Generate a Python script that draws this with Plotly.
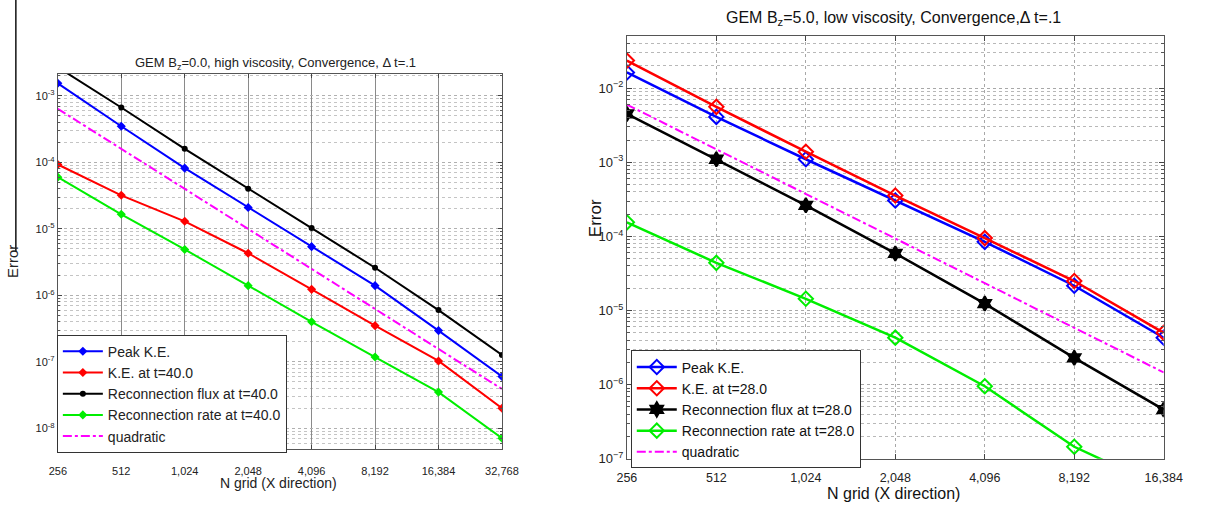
import math
import plotly.graph_objects as go

# ---------------- data ----------------
n_left = [256, 512, 1024, 2048, 4096, 8192, 16384, 32768]
n_left_labels = ["256", "512", "1,024", "2,048", "4,096", "8,192", "16,384", "32,768"]
left_peak_ke = [1.55e-3, 3.5e-4, 8.2e-5, 2.1e-5, 5.4e-6, 1.4e-6, 2.95e-7, 6.0e-8]
left_ke_t40 = [9.3e-5, 3.2e-5, 1.3e-5, 4.3e-6, 1.23e-6, 3.5e-7, 1.03e-7, 2.0e-8]
left_flux_t40 = [2.7e-3, 6.7e-4, 1.6e-4, 4.0e-5, 1.03e-5, 2.6e-6, 6.0e-7, 1.27e-7]
left_rate_t40 = [6.0e-5, 1.66e-5, 4.9e-6, 1.4e-6, 4.0e-7, 1.18e-7, 3.5e-8, 7.1e-9]
left_quadratic = [6.4e-4, 1.6e-4, 4.0e-5, 1.0e-5, 2.5e-6, 6.25e-7, 1.56e-7, 3.9e-8]
left_ytick_vals = [1e-8, 1e-7, 1e-6, 1e-5, 1e-4, 1e-3]
left_ytick_text = ["10<sup>-8</sup>", "10<sup>-7</sup>", "10<sup>-6</sup>",
                   "10<sup>-5</sup>", "10<sup>-4</sup>", "10<sup>-3</sup>"]

n_right = [256, 512, 1024, 2048, 4096, 8192, 16384]
n_right_labels = ["256", "512", "1,024", "2,048", "4,096", "8,192", "16,384"]
right_peak_ke = [1.63e-2, 4.1e-3, 1.1e-3, 3.05e-4, 8.45e-5, 2.16e-5, 4.3e-6]
right_ke_t28 = [2.36e-2, 5.6e-3, 1.39e-3, 3.56e-4, 9.5e-5, 2.5e-5, 5.0e-6]
right_flux_t28 = [4.5e-3, 1.1e-3, 2.63e-4, 5.9e-5, 1.24e-5, 2.3e-6, 4.6e-7]
right_rate_t28 = [1.55e-4, 4.4e-5, 1.44e-5, 4.3e-6, 9.5e-7, 1.45e-7, 4.0e-8]
right_quadratic = [6.0e-3, 1.5e-3, 3.75e-4, 9.4e-5, 2.34e-5, 5.9e-6, 1.46e-6]
right_ytick_vals = [1e-7, 1e-6, 1e-5, 1e-4, 1e-3, 1e-2]
right_ytick_text = ["10<sup>−7</sup>", "10<sup>−6</sup>", "10<sup>−5</sup>",
                    "10<sup>−4</sup>", "10<sup>−3</sup>", "10<sup>−2</sup>"]

W, H = 1212, 512
FONT = "Liberation Sans, Arial, sans-serif"

BLUE, RED, BLACK, GREEN, MAG = "#0000ff", "#ff0000", "#000000", "#00ee00", "#ff00ff"

fig = go.Figure()

# ---------------- left panel ----------------
left_series = [
    ("Peak K.E.", left_peak_ke, BLUE, "diamond"),
    ("K.E. at t=40.0", left_ke_t40, RED, "diamond"),
    ("Reconnection flux at t=40.0", left_flux_t40, BLACK, "circle"),
    ("Reconnection rate at t=40.0", left_rate_t40, GREEN, "diamond"),
]
for name, vals, col, sym in left_series:
    fig.add_trace(go.Scatter(
        x=n_left, y=vals, name=name, mode="lines+markers",
        line=dict(color=col, width=2),
        marker=dict(symbol=sym, size=7 if sym == "diamond" else 6, color=col),
        xaxis="x", yaxis="y", legend="legend"))
fig.add_trace(go.Scatter(
    x=n_left, y=left_quadratic, name="quadratic", mode="lines",
    line=dict(color=MAG, width=2, dash="dashdot"),
    xaxis="x", yaxis="y", legend="legend"))

# ---------------- right panel ----------------
right_series = [
    ("Peak K.E.", right_peak_ke, BLUE, "diamond-open"),
    ("K.E. at t=28.0", right_ke_t28, RED, "diamond-open"),
    ("Reconnection flux at t=28.0", right_flux_t28, BLACK, "hexagram"),
    ("Reconnection rate at t=28.0", right_rate_t28, GREEN, "diamond-open"),
]
for name, vals, col, sym in right_series:
    fig.add_trace(go.Scatter(
        x=n_right, y=vals, name=name, mode="lines+markers",
        line=dict(color=col, width=2.5),
        marker=dict(symbol=sym, size=11, color=col, line=dict(color=col, width=2)),
        xaxis="x2", yaxis="y2", legend="legend2"))
fig.add_trace(go.Scatter(
    x=n_right, y=right_quadratic, name="quadratic", mode="lines",
    line=dict(color=MAG, width=2, dash="dashdot"),
    xaxis="x2", yaxis="y2", legend="legend2"))

# ---------------- axes ----------------
def px_x(p):
    return p / W

def px_y(p):
    return 1 - p / H

common_axis = dict(showline=True, linecolor="#555555", linewidth=1, mirror="ticks",
                   ticks="inside", zeroline=False)

fig.update_layout(
    width=W, height=H, margin=dict(l=0, r=0, t=0, b=0),
    paper_bgcolor="white", plot_bgcolor="white",
    font=dict(family=FONT, color="#222222"),
    xaxis=dict(type="log", domain=[px_x(49), px_x(504)], anchor="y",
               range=[math.log10(n_left[0]), math.log10(n_left[-1])],
               tickmode="array", tickvals=n_left, ticktext=n_left_labels,
               tickfont=dict(size=11, color="#222"), ticklen=4, ticklabelstandoff=12,
               showgrid=True, gridcolor="#8a8a8a", gridwidth=1, **common_axis),
    yaxis=dict(type="log", domain=[px_y(456), px_y(75)], anchor="x",
               range=[-8.31, -2.667],
               tickmode="array", tickvals=left_ytick_vals, ticktext=left_ytick_text,
               tickfont=dict(size=11, color="#222"), ticklen=4,
               showgrid=True, gridcolor="#b0b0b0", griddash="dot",
               minor=dict(dtick="D1", showgrid=True, gridcolor="#c4c4c4", griddash="dot",
                          ticks="inside", ticklen=2, tickcolor="#555"),
               title=dict(text="Error", font=dict(size=15, color="#222"), standoff=13),
               automargin=False,
               **common_axis),
    xaxis2=dict(type="log", domain=[px_x(632), px_x(1182)], anchor="y2",
                range=[math.log10(n_right[0]), math.log10(n_right[-1])],
                tickmode="array", tickvals=n_right, ticktext=n_right_labels,
                tickfont=dict(size=12.5, color="#222"), ticklen=5, ticklabelstandoff=7,
                showgrid=True, gridcolor="#a8a8a8", griddash="dot", **common_axis),
    yaxis2=dict(type="log", domain=[px_y(466), px_y(37)], anchor="x2",
                range=[-7, math.log10(0.05)],
                tickmode="array", tickvals=right_ytick_vals, ticktext=right_ytick_text,
                tickfont=dict(size=13, color="#222"), ticklen=5,
                showgrid=True, gridcolor="#a8a8a8", griddash="dot",
                minor=dict(dtick="D1", showgrid=True, gridcolor="#b8b8b8", griddash="dot",
                           ticks="inside", ticklen=3, tickcolor="#555"),
                **common_axis),
    legend=dict(x=px_x(48), y=px_y(340), xanchor="left", yanchor="top",
                bgcolor="white", bordercolor="#333", borderwidth=1,
                font=dict(size=14, color="#222"), tracegroupgap=0, itemwidth=40),
    legend2=dict(x=px_x(636), y=px_y(356), xanchor="left", yanchor="top",
                 bgcolor="white", bordercolor="#333", borderwidth=1,
                 font=dict(size=14, color="#111"), tracegroupgap=0, itemwidth=40),
    showlegend=True,
)

# ---------------- titles and labels ----------------
annotations = [
    dict(text="GEM B<sub>z</sub>=0.0, high viscosity, Convergence, Δ t=.1",
         x=px_x(272), y=px_y(64), font=dict(size=13, color="#222"), yanchor="middle"),
    dict(text="GEM B<sub>z</sub>=5.0, low viscosity, Convergence,Δ t=.1",
         x=px_x(905), y=px_y(19), font=dict(size=16, color="#111"), yanchor="middle"),
    dict(text="Error", x=px_x(600), y=px_y(222), textangle=-90,
         font=dict(size=17, color="#111"), yanchor="middle"),
    dict(text="N grid (X direction)", x=px_x(275), y=px_y(501),
         font=dict(size=14, color="#222"), yanchor="bottom"),
    dict(text="N grid (X direction)", x=px_x(905), y=0,
         font=dict(size=16, color="#111"), yanchor="bottom"),
]
for a in annotations:
    fig.add_annotation(xref="paper", yref="paper", showarrow=False,
                       xanchor="center", **a)

# thin vertical rule at far left of the scanned figure
fig.add_shape(type="line", xref="paper", yref="paper",
              x0=px_x(6), x1=px_x(6), y0=1, y1=px_y(255),
              line=dict(color="#111", width=1.5))

fig.write_html("out.html")
